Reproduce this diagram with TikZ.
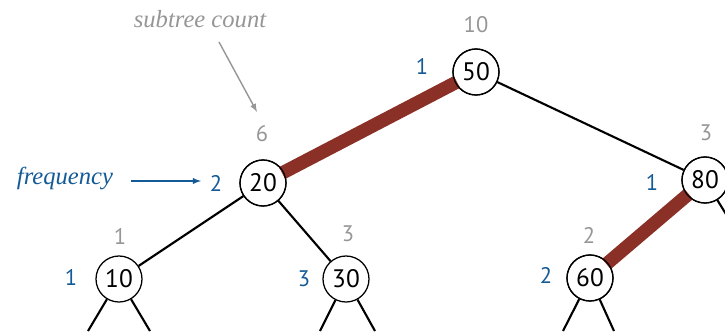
\documentclass[tikz,border=0pt]{standalone}
\usepackage{fontspec}
\setmainfont{Liberation Serif}
\newfontfamily\keyfont{PT Sans}
\definecolor{sizegray}{RGB}{150,150,150}
\definecolor{freqblue}{RGB}{20,90,150}
\definecolor{pathred}{RGB}{139,48,38}
\begin{document}
\begin{tikzpicture}[x=0.025cm,y=-0.025cm,
        key/.style={circle,draw,line width=0.9pt,fill=white,minimum size=1.15cm,inner sep=0pt,font=\keyfont\fontsize{18}{21}\selectfont},
        cnt/.style={text=sizegray,font=\keyfont\fontsize{16}{19}\selectfont},
        frq/.style={text=freqblue,font=\keyfont\fontsize{16}{19}\selectfont},
        link/.style={line width=1.5pt},
        hot/.style={line width=9.5pt,draw=pathred,shorten <=-1.5pt,shorten >=-1.5pt}]
            \clip (0,0) rectangle (725,331);

            \coordinate (s10a) at (88,331);
            \coordinate (s10b) at (150,331);
            \coordinate (s30a) at (320,331);
            \coordinate (s30b) at (375,331);
            \coordinate (s60a) at (563,331);
            \coordinate (s60b) at (614,331);
            \coordinate (s80b) at (745,245);
            \coordinate (acnt) at (219,42);
            \coordinate (bcnt) at (257,112);
            \coordinate (afrq) at (131,181);
            \coordinate (bfrq) at (201,181);

            \node[key] (k50) at (476,72) {50};
            \node[key] (k20) at (263,183) {20};
            \node[key] (k80) at (705,180) {80};
            \node[key] (k10) at (119,279) {10};
            \node[key] (k30) at (346,279) {30};
            \node[key] (k60) at (590,278) {60};

            % tree edges
            \draw[hot] (k50)--(k20);
            \draw[hot] (k80)--(k60);
            \draw[link] (k50)--(k80);
            \draw[link] (k20)--(k10);
            \draw[link] (k20)--(k30);
            \draw[link] (k10)--(s10a);
            \draw[link] (k10)--(s10b);
            \draw[link] (k30)--(s30a);
            \draw[link] (k30)--(s30b);
            \draw[link] (k60)--(s60a);
            \draw[link] (k60)--(s60b);
            \draw[link] (k80)--(s80b);

            % redraw the rims over the thick path
            \foreach \k in {k50,k20,k80,k60}
                \draw[line width=0.9pt] (\k) circle (0.575cm);

            \node[cnt] (c50) at (476,25) {10};
            \node[cnt] (c20) at (262,134) {6};
            \node[cnt] (c80) at (706,133) {3};
            \node[cnt] (c10) at (120,236) {1};
            \node[cnt] (c30) at (348,234) {3};
            \node[cnt] (c60) at (589,235) {2};

            \node[frq] (f50) at (422,66) {1};
            \node[frq] (f20) at (216,183) {2};
            \node[frq] (f80) at (652,182) {1};
            \node[frq] (f10) at (71,277) {1};
            \node[frq] (f30) at (304,279) {3};
            \node[frq] (f60) at (546,275) {2};

            \node[text=sizegray,font=\itshape\fontsize{17.5}{20}\selectfont] (lcnt) at (200,19) {subtree count};
            \node[text=freqblue,font=\itshape\fontsize{17.5}{20}\selectfont] (lfrq) at (65,178) {frequency};

            \draw[-latex,sizegray,line width=1pt] (acnt)--(bcnt);
            \draw[-latex,freqblue,line width=1pt] (afrq)--(bfrq);
        \end{tikzpicture}
\end{document}
